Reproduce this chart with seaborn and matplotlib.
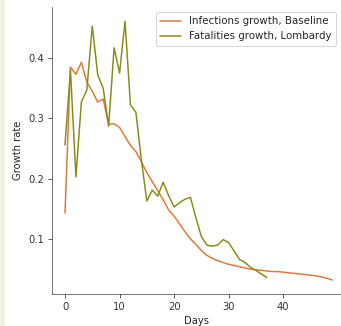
import numpy as np
import pandas as pd
import matplotlib
matplotlib.use("Agg")
import matplotlib.pyplot as plt
import seaborn as sns
from matplotlib.patches import Rectangle

infections_baseline = [0.143, 0.385, 0.373, 0.393, 0.360, 0.345, 0.327, 0.332, 0.290, 0.291,
                       0.285, 0.270, 0.255, 0.245, 0.228, 0.210, 0.195, 0.180, 0.165, 0.148,
                       0.138, 0.125, 0.112, 0.100, 0.091, 0.081, 0.073, 0.068, 0.064, 0.061,
                       0.058, 0.056, 0.054, 0.052, 0.050, 0.049, 0.048, 0.047, 0.046, 0.046,
                       0.045, 0.044, 0.043, 0.042, 0.041, 0.040, 0.039, 0.037, 0.035, 0.032]
fatalities_lombardy = [0.256, 0.380, 0.203, 0.327, 0.347, 0.453, 0.372, 0.350, 0.287, 0.417,
                       0.375, 0.461, 0.322, 0.310, 0.231, 0.163, 0.181, 0.171, 0.194, 0.172,
                       0.153, 0.160, 0.166, 0.169, 0.135, 0.104, 0.090, 0.088, 0.090, 0.099,
                       0.094, 0.080, 0.066, 0.061, 0.053, 0.048, 0.042, 0.036]
series_names = ["Infections growth, Baseline", "Fatalities growth, Lombardy"]
series_colors = ["#dd7a38", "#8b8b1a"]

df = pd.concat([
    pd.DataFrame({"Days": np.arange(len(infections_baseline)), "Growth rate": infections_baseline,
                  "series": series_names[0]}),
    pd.DataFrame({"Days": np.arange(len(fatalities_lombardy)), "Growth rate": fatalities_lombardy,
                  "series": series_names[1]}),
])

sns.set_style("ticks")
plt.rcParams["font.family"] = ["DejaVu Sans"]
plt.rcParams["font.size"] = 10

fig = plt.figure(figsize=(341 / 72, 326 / 72), dpi=72)
fig.patches.append(Rectangle((0, 0), 5 / 341, 1, transform=fig.transFigure,
                             facecolor="#eef2e0", edgecolor="none", zorder=0))
ax = fig.add_axes([52 / 341, 1 - 294 / 326, 289 / 341, (294 - 7) / 326])
sns.lineplot(data=df, x="Days", y="Growth rate", hue="series",
             palette=dict(zip(series_names, series_colors)), linewidth=1.5, ax=ax)
ax.set_xlim(-2.385, 50.6)
ax.set_ylim(0.0088, 0.4846)
ax.set_xticks([0, 10, 20, 30, 40])
ax.set_yticks([0.1, 0.2, 0.3, 0.4])
ax.set_xlabel("Days", fontsize=10)
ax.set_ylabel("Growth rate", fontsize=10, labelpad=6)
ax.tick_params(labelsize=10, colors="#333333", length=4)
for s in ["left", "bottom"]:
    ax.spines[s].set_color("#555555")
sns.despine(ax=ax)
leg = ax.legend(loc="upper right", fontsize=10.3, frameon=True)
leg.set_title(None)
fig.savefig("out.png", dpi=72)
